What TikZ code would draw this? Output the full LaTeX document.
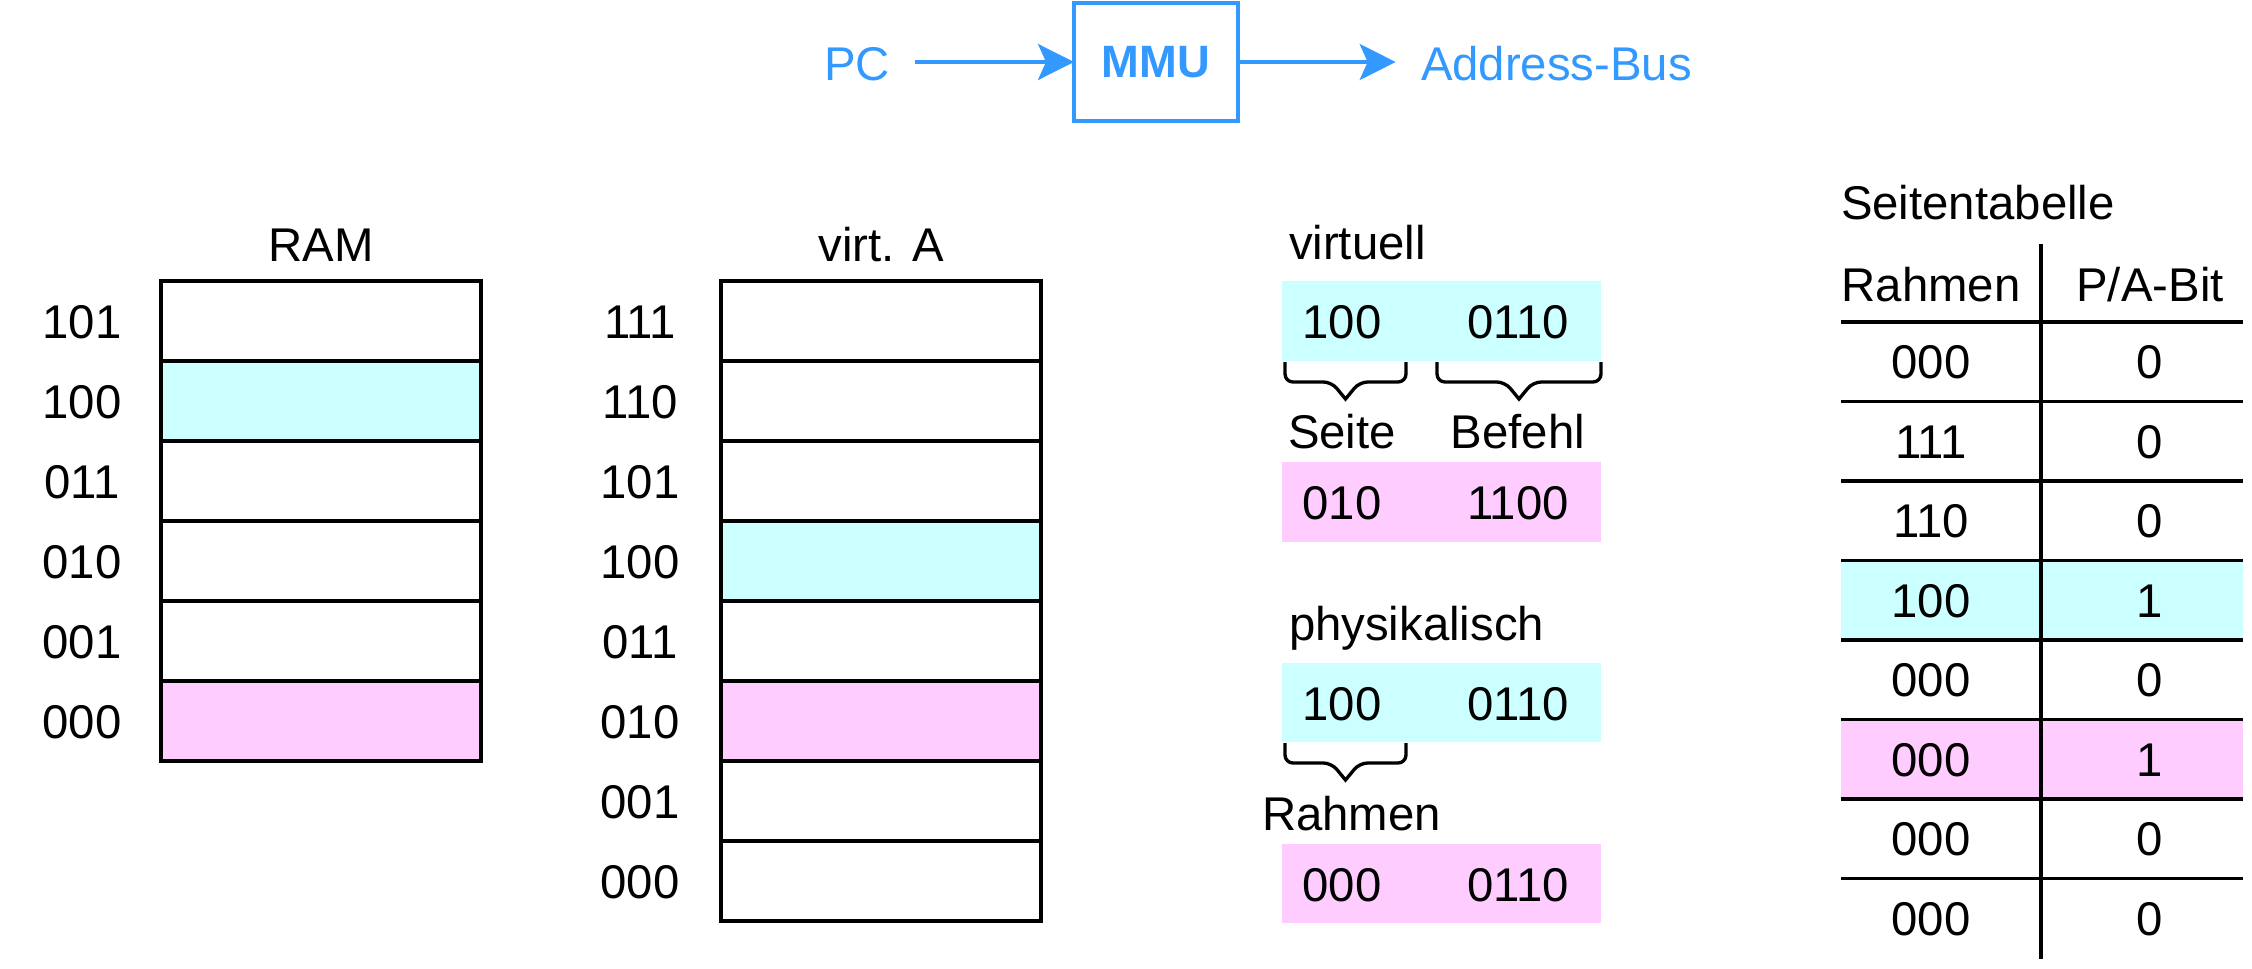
\documentclass[tikz,border=0pt]{standalone}
\usepackage{fontspec}
\setmainfont{Liberation Sans}
\usetikzlibrary{arrows.meta}
\definecolor{bluec}{HTML}{3399FF}
\definecolor{cyanf}{HTML}{CCFFFF}
\definecolor{pinkf}{HTML}{FFCCFF}
\newcommand\mybrace[3]{% x1, x2, ytop
  \pgfmathsetmacro\bxm{(#1+#2)/2}%
  \draw[bracestyle] (#1,#3) -- (#1,{#3+20}) -- ({\bxm-14},{#3+20}) [sharp corners] -- (\bxm,{#3+37}) [rounded corners=6pt] -- ({\bxm+14},{#3+20}) -- (#2,{#3+20}) -- (#2,#3);%
}
\begin{document}
\begin{tikzpicture}[x=0.75pt,y=-0.75pt,
  every node/.style={font=\fontsize{35.5}{42}\selectfont, inner sep=0pt, outer sep=0pt},
  txt/.style={anchor=base},
  bluetxt/.style={anchor=base, text=bluec},
  mmubox/.style={draw=bluec, line width=2.6pt, minimum width=123pt, minimum height=88.5pt, text=bluec, font=\fontsize{34}{40}\selectfont\bfseries},
  arr/.style={draw=bluec, line width=2.8pt, -{Stealth[length=27pt,width=27pt,inset=6pt]}},
  cell/.style={draw, line width=2.6pt, minimum width=240pt, minimum height=60pt},
  bar/.style={minimum width=239.25pt, minimum height=59.5pt},
  rule/.style={line width=2.6pt},
  bracestyle/.style={line width=2.5pt, rounded corners=6pt},
]
\useasboundingbox (0,0) rectangle (2252,968);

% top: PC -> MMU -> Address-Bus
\node[bluetxt] (pc) at (857,80) {PC};
\node[mmubox] (mmu) at (1156,62) {MMU};
\node[bluetxt, anchor=base west] (bus) at (1421,80) {Address-Bus};
\draw[arr, shorten <=19pt] (pc.east |- mmu.west) -- (mmu.west);
\draw[arr, shorten >=19pt] (mmu.east) -- (mmu.east -| bus.west);

% RAM
\node[txt] (ramt) at (321,261) {RAM};
\foreach \lab/\col [count=\i from 0] in {101/white,100/cyanf,011/white,010/white,001/white,000/pinkf}{
  \node[cell, fill=\col] (ram\i) at (321,{321+80*\i}) {};
  \node[txt] (raml\i) at (82,{338+80*\i}) {\lab};
}

% virtual address space
\node[txt] (virtt) at (881,261) {virt. A};
\foreach \lab/\col [count=\i from 0] in {111/white,110/white,101/white,100/cyanf,011/white,010/pinkf,001/white,000/white}{
  \node[cell, fill=\col] (va\i) at (881,{321+80*\i}) {};
  \node[txt] (val\i) at (640,{338+80*\i}) {\lab};
}

% middle: address translation
\node[txt, anchor=base west] (virt) at (1289,259) {virtuell};
\node[bar, fill=cyanf] (vb) at (1441.5,321) {};
\node[txt] (vb1) at (1342,338) {100};
\node[txt] (vb2) at (1518,338) {0110};
\mybrace{1285}{1406}{362}
\mybrace{1437}{1601}{362}
\node[txt] (seite) at (1342,448) {Seite};
\node[txt] (befehl) at (1518,448) {Befehl};
\node[bar, fill=pinkf] (pb) at (1441.5,502) {};
\node[txt] (pb1) at (1342,519) {010};
\node[txt] (pb2) at (1518,519) {1100};

\node[txt, anchor=base west] (phys) at (1289,640) {physikalisch};
\node[bar, fill=cyanf] (cb) at (1441.5,702.5) {};
\node[txt] (cb1) at (1342,720) {100};
\node[txt] (cb2) at (1518,720) {0110};
\mybrace{1285}{1406}{743}
\node[txt, anchor=base west] (rahm) at (1262,830) {Rahmen};
\node[bar, fill=pinkf] (qb) at (1441.5,883.5) {};
\node[txt] (qb1) at (1342,901) {000};
\node[txt] (qb2) at (1518,901) {0110};

% page table
\node[txt, anchor=base west] (st) at (1841,219) {Seitentabelle};
\node[txt] (h1) at (1931,301) {Rahmen};
\node[txt] (h2) at (2150,301) {P/A-Bit};
\fill[cyanf] (1841,560.5) rectangle (2243,640);
\fill[pinkf] (1841,719.5) rectangle (2243,799);
\foreach \k in {0,...,7}{
  \draw[rule] (1841,{322+79.5*\k}) -- (2243,{322+79.5*\k});
}
\draw[rule] (2041,244) -- (2041,959);
\foreach \a/\b [count=\i from 0] in {000/0,111/0,110/0,100/1,000/0,000/1,000/0,000/0}{
  \node[txt] (ra\i) at (1931,{378.75+79.5*\i}) {\a};
  \node[txt] (pa\i) at (2150,{378.75+79.5*\i}) {\b};
}
\end{tikzpicture}
\end{document}
